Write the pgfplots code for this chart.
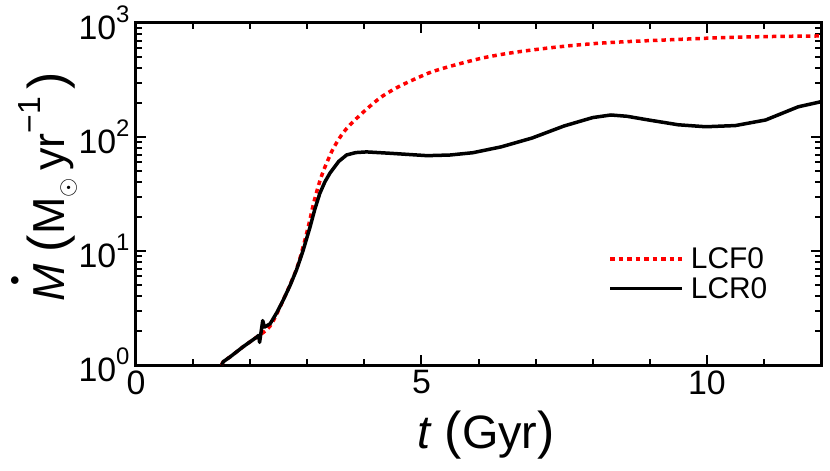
\documentclass[border=0pt]{standalone}
\usepackage{fontspec}
\setmainfont{Liberation Sans}
\usepackage{pgfplots}
\pgfplotsset{compat=1.18}

\newcommand{\tp}[1]{10\raisebox{0.5em}{\fontsize{24}{24}\selectfont #1}}
\newcommand{\Mdot}{\makebox[0pt][l]{\hspace{0.36em}\raisebox{0.9em}{\fontsize{28}{28}\selectfont •}}\textit{M}}
\newcommand{\bigp}[1]{{\fontsize{52}{52}\selectfont #1}}

\begin{document}
\begin{tikzpicture}
\begin{axis}[
  scale only axis, width=685bp, height=342bp,
  ymode=log, xmin=0, xmax=12, ymin=1, ymax=1000,
  xtick={0,5,10}, xticklabels={0,5,10},
  minor xtick={1,2,3,4,6,7,8,9,11},
  ytick={1,10,100,1000}, yticklabels={\tp{0},\tp{1},\tp{2},\tp{3}},
  minor ytick={2,3,4,5,6,7,8,9,20,30,40,50,60,70,80,90,200,300,400,500,600,700,800,900},
  tick align=inside,
  major tick length=10bp, minor tick length=6bp,
  every tick/.style={line width=2bp, black},
  axis line style={line width=3bp},
  ticklabel style={font=\fontsize{34}{34}\selectfont},
  xticklabel style={yshift=-2bp},
  yticklabel style={xshift=-3bp},
  xlabel={\textit{t} \bigp{(}Gyr\bigp{)}},
  ylabel={\Mdot\ \bigp{(}M\raisebox{-0.22em}{\fontsize{32}{32}\selectfont$\odot$}\,yr\raisebox{0.55em}{\fontsize{32}{32}\selectfont −1}\,\bigp{)}},
  xlabel style={font=\fontsize{47}{47}\selectfont, at={(rel axis cs:0.511,-0.205)}, anchor=center},
  ylabel style={font=\fontsize{45}{45}\selectfont, at={(rel axis cs:-0.134,0.52)}, anchor=center},
  legend style={draw=none, fill=none, at={(rel axis cs:0.685,0.355)}, anchor=north west,
    font=\fontsize{30}{30}\selectfont, row sep=3bp,
    nodes={inner ysep=2bp, inner xsep=7bp}},
  legend cell align=left,
  legend image code/.code={\draw[#1] (0bp,0bp) -- (72bp,0bp);},
]
\addplot[red, line width=3.5bp, dash pattern=on 4.5bp off 4bp, smooth] coordinates {
 (1.50,1.00) (1.53,1.07) (1.65,1.18) (1.88,1.45) (2.11,1.75) (2.35,2.2)
 (2.58,3.72) (2.81,6.9) (2.93,11) (3.02,16.5) (3.11,26) (3.20,38)
 (3.28,50) (3.37,64) (3.46,80) (3.60,104) (3.75,128) (4.02,172) (4.3,225)
 (4.6,276) (4.9,325) (5.19,374) (5.6,430) (6.07,493) (6.5,540) (6.94,580)
 (7.5,625) (8.1,664) (8.7,690) (9.28,710) (9.9,732) (10.44,749) (11.2,762) (12.0,770)
};
\addlegendentry{LCF0}
\addplot[black, line width=3.5bp, line join=round] coordinates {
 (1.50,1.00) (1.53,1.07) (1.65,1.18) (1.88,1.45) (2.11,1.75) (2.15,1.82)
 (2.165,1.58) (2.22,2.45) (2.25,2.15) (2.35,2.3) (2.47,2.9) (2.58,3.72)
 (2.70,5.0) (2.81,6.8) (2.87,8.3) (2.93,10.2) (3.05,16.3) (3.13,23) (3.22,32)
 (3.31,40.5) (3.40,48.4) (3.55,61) (3.69,69.6) (3.85,73) (4.04,74) (4.45,72)
 (5.1,68.6) (5.5,69.5) (5.9,72.8) (6.4,82) (6.94,98) (7.5,125) (8.0,148)
 (8.32,156) (8.6,152) (8.98,141) (9.5,128) (9.98,123) (10.5,126) (11.03,141)
 (11.6,184) (12.0,204)
};
\addlegendentry{LCR0}
\end{axis}
\pgfresetboundingbox
\path[use as bounding box] ([shift={(-136bp,-106bp)}]current axis.south west)
  rectangle ([shift={(9bp,23bp)}]current axis.north east);
\end{tikzpicture}
\end{document}
